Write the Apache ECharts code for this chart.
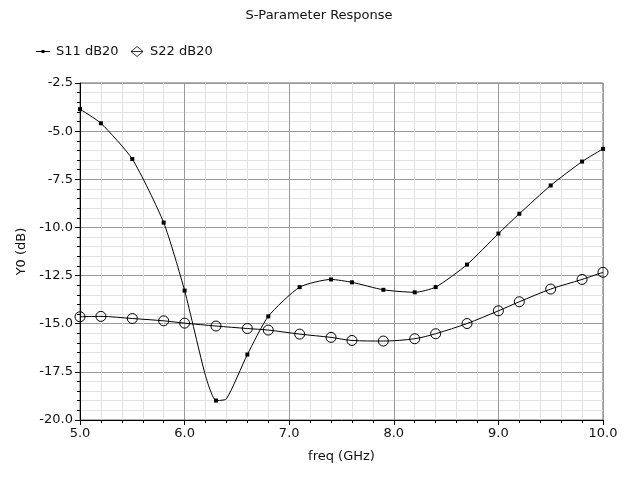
<!DOCTYPE html>
<html>
<head>
<meta charset="utf-8">
<script src="https://cdn.jsdelivr.net/npm/echarts@6/dist/echarts.min.js"></script>
<style>html,body{margin:0;padding:0;background:#fff}#c{width:638px;height:477px}</style>
</head>
<body>
<div id="c"></div>
<script>
var titleText = 'S-Parameter Response';
var xName = 'freq (GHz)';
var yName = 'Y0 (dB)';
var seriesNames = ['S11 dB20', 'S22 dB20'];

// S11 curve samples (marker flag = 1 where a marker is drawn)
var s11Freq   = [5.0, 5.2, 5.5, 5.8, 6.0, 6.2, 6.3, 6.4, 6.6, 6.8, 7.1, 7.4, 7.6, 7.9, 8.2, 8.4, 8.7, 9.0, 9.2, 9.5, 9.8, 10.0];
var s11Val    = [-3.86, -4.59, -6.45, -9.75, -13.28, -17.7, -18.99, -18.9, -16.6, -14.62, -13.1, -12.7, -12.85, -13.24, -13.37, -13.1, -11.93, -10.32, -9.29, -7.82, -6.58, -5.92];
var s11Marker = [1, 1, 1, 1, 1, 0, 1, 0, 1, 1, 1, 1, 1, 1, 1, 1, 1, 1, 1, 1, 1, 1];

// S22 curve samples
var s22Freq = [5.0, 5.2, 5.5, 5.8, 6.0, 6.3, 6.6, 6.8, 7.1, 7.4, 7.6, 7.9, 8.2, 8.4, 8.7, 9.0, 9.2, 9.5, 9.8, 10.0];
var s22Val  = [-14.64, -14.62, -14.73, -14.85, -14.97, -15.12, -15.25, -15.33, -15.54, -15.71, -15.87, -15.9, -15.78, -15.52, -14.99, -14.33, -13.86, -13.2, -12.7, -12.33];

var s11Data = s11Freq.map(function (f, i) {
  var d = { value: [f, s11Val[i]] };
  if (!s11Marker[i]) d.symbol = 'none';
  return d;
});
var s22Data = s22Freq.map(function (f, i) { return [f, s22Val[i]]; });

var font = 'DejaVu Sans, sans-serif';
var fs = 13;
var chart = echarts.init(document.getElementById('c'), null, { renderer: 'canvas' });
chart.setOption({
  animation: false,
  backgroundColor: '#fff',
  title: {
    text: titleText, left: 'center', top: 4,
    textStyle: { fontFamily: font, fontSize: fs, fontWeight: 'normal', color: '#111' }
  },
  legend: {
    left: 31, top: 40, itemGap: 12, itemWidth: 14, itemHeight: 10,
    textStyle: { fontFamily: font, fontSize: fs, color: '#111', padding: [0, 0, 0, 1] },
    data: [
      { name: seriesNames[0], icon: 'path://M0,4.5L14,4.5L14,5.5L0,5.5Z M5.5,3.5L8.5,3.5L8.5,6.5L5.5,6.5Z' },
      { name: seriesNames[1], icon: 'path://M0,5L12,5M6,0L12,5L6,10L0,5Z',
        itemStyle: { color: 'transparent', borderColor: '#000', borderWidth: 0.8 } }
    ]
  },
  grid: { left: 80, right: 35, top: 83, bottom: 57, show: true, borderColor: '#666', borderWidth: 1 },
  xAxis: {
    type: 'value', min: 5, max: 10, interval: 1,
    name: xName, nameLocation: 'middle', nameGap: 30,
    nameTextStyle: { fontFamily: font, fontSize: fs, color: '#111' },
    axisLine: { lineStyle: { color: '#000', width: 1 } },
    axisTick: { show: true, length: 5, lineStyle: { color: '#000' } },
    minorTick: { show: true, splitNumber: 5, length: 3, lineStyle: { color: '#000' } },
    splitLine: { show: true, lineStyle: { color: '#999', width: 1 } },
    minorSplitLine: { show: true, lineStyle: { color: '#e2e2e2', width: 1 } },
    axisLabel: { fontFamily: font, fontSize: fs, color: '#111', margin: 7,
      formatter: function (v) { return v.toFixed(1); } }
  },
  yAxis: {
    type: 'value', min: -20, max: -2.5, interval: 2.5,
    name: yName, nameLocation: 'middle', nameGap: 52, nameRotate: 90,
    nameTextStyle: { fontFamily: font, fontSize: fs, color: '#111' },
    axisLine: { show: true, lineStyle: { color: '#000', width: 1 } },
    axisTick: { show: true, length: 5, lineStyle: { color: '#000' } },
    minorTick: { show: true, splitNumber: 5, length: 3, lineStyle: { color: '#000' } },
    splitLine: { show: true, lineStyle: { color: '#999', width: 1 } },
    minorSplitLine: { show: true, lineStyle: { color: '#e2e2e2', width: 1 } },
    axisLabel: { fontFamily: font, fontSize: fs, color: '#111', margin: 7,
      formatter: function (v) { return v.toFixed(1); } }
  },
  series: [
    {
      name: seriesNames[0], type: 'line', data: s11Data,
      smooth: 0.2, symbol: 'rect', symbolSize: 4,
      lineStyle: { color: '#000', width: 1 },
      itemStyle: { color: '#000' },
      clip: true
    },
    {
      name: seriesNames[1], type: 'line', data: s22Data,
      smooth: 0.3, symbol: 'circle', symbolSize: 10,
      lineStyle: { color: '#000', width: 1 },
      itemStyle: { color: 'transparent', borderColor: '#000', borderWidth: 1 },
      clip: true
    }
  ]
});
</script>
</body>
</html>
